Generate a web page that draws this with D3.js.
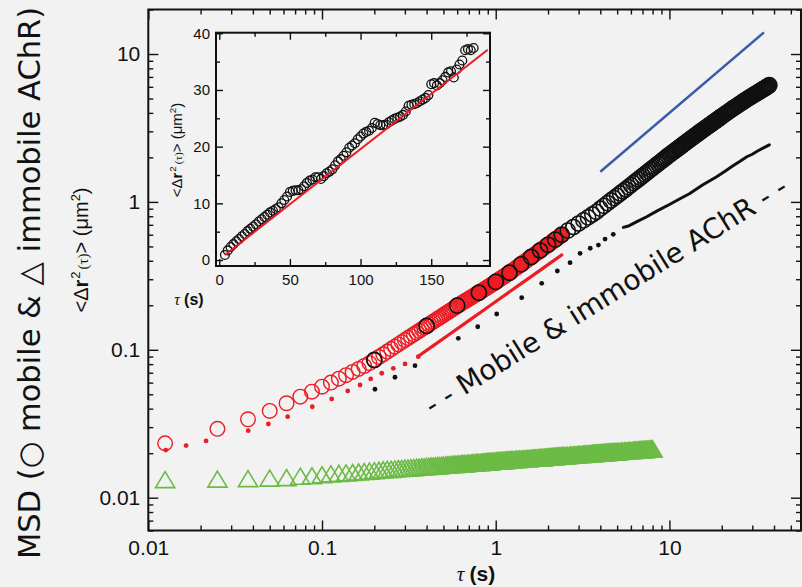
<!DOCTYPE html>
<html><head><meta charset="utf-8">
<script src="https://cdn.jsdelivr.net/npm/d3@7"></script>
<style>html,body{margin:0;padding:0;background:#f2f2f2}svg{display:block}</style>
</head><body>
<svg id="chart" width="802" height="587"></svg>
<script>
// ---------- DATA ----------
const fastFrame = 0.0125;   // s per lag frame (fast acquisition)
const slowFrame = 0.2;      // s per lag frame (slow acquisition)
const lagsDense = [1,2,3,4,5,6,7,8,9,10,11,12,13,14,15,16,17,18,19,20,21,22,23,24,25,26,27,28,29,30,31,32,33,34,35,36,37,38,39,40,41,42,43,44,45,46,47,48,49,50,51,52,53,54,55,56,57,58,59,60,61,62,63,64,65,66,67,68,69,70,71,72,73,74,75,76,77,78,79,80,81,82,83,84,85,86,87,88,89,90,91,92,93,94,95,96,97,98,99,100];

// mobile AChR, fast frames (red open circles)
const mobileFastLag = lagsDense.concat([102,104,106,108,110,112,114,116,118,120,122,124,126,128,130,132,134,136,138,140,142,144,146,148,150,152,154,156,158,160,162,164,166,168,170,172,174,176,178,180,182,184,186,188,190]);
const mobileFastMsd = [0.0233,0.0292,0.0339,0.0386,0.0435,0.0482,0.0521,0.0563,0.0600,0.0638,0.0674,0.0709,0.0743,0.0777,0.0812,0.0853,0.0894,0.0933,0.0973,0.1012,0.1050,0.1088,0.1126,0.1163,0.1200,0.1236,0.1272,0.1308,0.1343,0.1378,
0.1414,0.1450,0.1484,0.1518,0.1552,0.1586,0.1619,0.1652,0.1685,0.1718,0.1751,0.1783,0.1815,0.1847,0.1879,0.1910,0.1945,0.1980,0.2010,0.2039,
0.2069,0.2098,0.2127,0.2155,0.2184,0.2212,0.2241,0.2269,0.2297,0.2325,0.2353,0.2380,0.2405,0.2430,0.2459,0.2487,0.2515,0.2543,0.2571,0.2599,
0.2627,0.2654,0.2682,0.2709,0.2737,0.2764,0.2791,0.2818,0.2849,0.2880,0.2908,0.2936,0.2964,0.2992,0.3020,0.3047,0.3075,0.3102,0.3130,0.3157,
0.3185,0.3212,0.3239,0.3266,0.3293,0.3320,0.3349,0.3378,0.3408,0.3437,
0.3496,0.3554,0.3612,0.3670,0.3728,0.3785,0.3842,0.3899,0.3956,0.4013,0.4070,0.4126,0.4183,0.4239,0.4295,0.4351,0.4407,0.4463,0.4519,0.4575,
0.4631,0.4686,0.4741,0.4796,0.4851,0.4906,0.4961,0.5016,0.5071,0.5125,0.5179,0.5233,0.5287,0.5341,0.5395,0.5449,0.5503,0.5556,0.5610,0.5663,
0.5716,0.5769,0.5822,0.5875,0.5928];

// mobile AChR, slow frames (black open circles)
const mobileSlowLag = lagsDense.concat([102,104,106,108,110,112,114,116,118,120,122,124,126,128,130,132,134,136,138,140,142,144,146,148,150,152,154,156,158,160,162,164,166,168,170,172,174,176,178,180,182,184,186,188]);
const mobileSlowMsd = [0.0853,0.145,0.199,0.243,0.288,0.332,0.378,0.424,0.469,0.513,0.556,0.600,0.639,0.676,0.714,0.750,0.786,0.822,0.857,0.900,
0.940,0.981,1.022,1.061,1.100,1.141,1.180,1.218,1.259,1.299,1.339,1.379,1.417,1.457,1.497,1.536,1.576,1.616,1.655,1.694,
1.733,1.772,1.810,1.849,1.888,1.927,1.965,2.004,2.043,2.082,2.118,2.155,2.191,2.227,2.263,2.299,2.335,2.371,2.409,2.446,
2.481,2.516,2.552,2.587,2.622,2.657,2.692,2.727,2.762,2.797,2.832,2.867,2.901,2.935,2.970,3.004,3.038,3.071,3.104,3.136,
3.169,3.202,3.235,3.267,3.300,3.333,3.366,3.398,3.431,3.463,3.495,3.527,3.560,3.592,3.624,3.656,3.689,3.722,3.754,3.786,
3.849,3.912,3.974,4.036,4.098,4.159,4.221,4.282,4.338,4.393,4.451,4.509,4.566,4.623,4.680,4.736,4.792,4.848,4.902,4.955,
5.010,5.065,5.113,5.161,5.212,5.263,5.313,5.363,5.413,5.462,5.511,5.559,5.608,5.656,5.705,5.754,5.801,5.848,5.895,5.941,
5.990,6.039,6.095,6.150];

// immobile AChR, fast frames (green open triangles)
const immobileLag = lagsDense.concat([102,104,106,108,110,112,114,116,118,120,122,124,126,128,130,132,134,136,138,140,142,144,146,148,150,152,154,156,158,160,162,164,166,168,170,172,174,176,178,180,182,184,186,188,190,192,194,196,198,200,
204,208,212,216,220,224,228,232,236,240,244,248,252,256,260,264,268,272,276,280,284,288,292,296,300,304,308,312,316,320,324,328,332,336,340,344,348,352,356,360,364,368,372,376,380,384,388,392,396,400,
408,416,424,432,440,448,456,464,472,480,488,496,504,512,520,528,536,544,552,560,568,576,584,592,600,608,616,624,632,640]);
const immobileMsd = [0.0127,0.0128,0.0129,0.0130,0.0131,0.0134,0.0135,0.0137,0.0139,0.0140,0.0141,0.0142,0.0143,0.0144,0.0145,0.0146,0.0147,0.0148,0.0149,0.0149,
0.0150,0.0151,0.0151,0.0152,0.0152,0.0153,0.0153,0.0154,0.0154,0.0155,0.0155,0.0156,0.0156,0.0157,0.0157,0.0157,0.0158,0.0158,0.0159,0.0159,
0.0159,0.0160,0.0160,0.0160,0.0161,0.0161,0.0161,0.0162,0.0162,0.0162,0.0163,0.0163,0.0163,0.0163,0.0164,0.0164,0.0164,0.0164,0.0165,0.0165,
0.0165,0.0166,0.0166,0.0166,0.0166,0.0166,0.0167,0.0167,0.0167,0.0167,0.0168,0.0168,0.0168,0.0168,0.0168,0.0169,0.0169,0.0169,0.0169,0.0169,
0.0170,0.0170,0.0170,0.0170,0.0170,0.0171,0.0171,0.0171,0.0171,0.0171,0.0171,0.0172,0.0172,0.0172,0.0172,0.0172,0.0172,0.0173,0.0173,0.0173,
0.0173,0.0174,0.0174,0.0174,0.0175,0.0175,0.0175,0.0175,0.0176,0.0176,0.0176,0.0176,0.0177,0.0177,0.0177,0.0177,0.0178,0.0178,0.0178,0.0178,
0.0179,0.0179,0.0179,0.0179,0.0179,0.0180,0.0180,0.0180,0.0180,0.0181,0.0181,0.0181,0.0181,0.0181,0.0182,0.0182,0.0182,0.0182,0.0182,0.0183,
0.0183,0.0183,0.0183,0.0183,0.0183,0.0184,0.0184,0.0184,0.0184,0.0184,
0.0185,0.0185,0.0185,0.0186,0.0186,0.0186,0.0187,0.0187,0.0187,0.0188,0.0188,0.0188,0.0188,0.0189,0.0189,0.0189,0.0189,0.0190,0.0190,0.0190,
0.0190,0.0191,0.0191,0.0191,0.0191,0.0192,0.0192,0.0192,0.0192,0.0193,0.0193,0.0193,0.0193,0.0193,0.0194,0.0194,0.0194,0.0194,0.0195,0.0195,
0.0195,0.0195,0.0195,0.0195,0.0196,0.0196,0.0196,0.0196,0.0196,0.0197,
0.0197,0.0197,0.0198,0.0198,0.0198,0.0199,0.0199,0.0199,0.0200,0.0200,0.0200,0.0200,0.0201,0.0201,0.0201,0.0202,0.0202,0.0202,0.0202,0.0203,
0.0203,0.0203,0.0203,0.0204,0.0204,0.0204,0.0204,0.0205,0.0205,0.0205];

// dotted trend curves (red: mobile fast, black: mobile slow)
const redTrendDotTau = [0.0126,0.0165,0.0215,0.0376,0.0491,0.0634,0.0879,0.1137,0.1406,0.1655,0.1907,0.2207,0.2573,0.3005,0.3584];
const redTrendDotMsd = [0.0210,0.0225,0.0242,0.0284,0.0315,0.0353,0.0412,0.0465,0.0527,0.0578,0.0635,0.0694,0.0750,0.0802,0.0898];
const redTrendLineTau = [0.3666,0.45,0.55,0.7,0.9,1.1,1.4,1.7,2.0,2.4];
const redTrendLineMsd = [0.0922,0.1093,0.129,0.1576,0.194,0.2294,0.280,0.3289,0.3766,0.438];
const blackTrendDotTau = [0.2018,0.263,0.343,0.609,0.788,1.013,1.411,1.840,2.263,2.679,3.06,3.50,3.90,4.26,4.75];
const blackTrendDotMsd = [0.0541,0.0652,0.0781,0.1196,0.1432,0.1746,0.2250,0.2817,0.3410,0.388,0.449,0.486,0.511,0.561,0.604];
const blackTrendLineTau = [5.43,5.8,6.5,7.4,8.5,10,11.5,13.1,15.5,18.7,21,23,25.5,27.9,30,32,35,37.6];
const blackTrendLineMsd = [0.673,0.687,0.735,0.794,0.87,0.96,1.05,1.14,1.30,1.48,1.62,1.739,1.88,2.02,2.10,2.20,2.33,2.43];

// slope-1 guide (blue)
const guideTau = [4, 35];
const guideMsd = [1.6, 14];

// inset: linear MSD
const insetTau = [4,6,8,10,12,14,16,18,20,22,24,26,28,30,32,34,36,38,40,42,44,46,48,50,52,54,56,58,60,62,64,66,68,70,72,74,76,78,80,82,84,86,88,90,92,94,96,98,100,102,104,106,108,110,112,114,116,118,120,122,124,126,128,130,132,134,136,138,140,142,144,146,148,150,152,154,156,158,160,162,164,166,168,170,172,174,176,178,180];
const insetMsd = [0.9,1.7,2.3,2.8,3.3,3.7,4.2,4.6,5.1,5.5,5.9,6.3,6.8,7.2,7.6,8.0,8.4,8.7,9.0,9.3,10.0,10.6,11.2,12.0,12.2,12.3,12.3,12.5,13.0,13.6,14.0,14.2,14.6,14.6,14.3,14.8,15.3,15.6,16.0,16.7,17.4,17.8,18.4,19.0,19.8,20.2,20.6,21.3,21.8,22.3,22.6,22.8,23.3,24.2,24.0,23.8,23.8,23.9,24.3,24.6,24.9,25.1,25.3,25.6,26.2,27.2,27.4,27.5,27.7,28.0,28.3,28.6,29.1,31.0,31.2,30.8,31.2,31.7,32.3,33.1,33.3,32.2,33.6,34.5,35.2,37.0,37.2,37.0,37.4];
const insetFitTau = [4, 190];
const insetFitMsd = [0.9, 37.1];

// tick labels
const mainMajorX = [0.01, 0.1, 1, 10];
const mainMinorX = [0.02,0.03,0.04,0.05,0.06,0.07,0.08,0.09,0.2,0.3,0.4,0.5,0.6,0.7,0.8,0.9,2,3,4,5,6,7,8,9,20,30,40,50];
const mainMajorY = [0.01, 0.1, 1, 10];
const mainMinorY = [0.006,0.007,0.008,0.009,0.02,0.03,0.04,0.05,0.06,0.07,0.08,0.09,0.2,0.3,0.4,0.5,0.6,0.7,0.8,0.9,2,3,4,5,6,7,8,9,20];
const insetMajorX = [0, 50, 100, 150];
const insetMinorX = [25, 75, 125, 175];
const insetMajorY = [0, 10, 20, 30, 40];
const insetMinorY = [5, 15, 25, 35];

// ---------- DRAW ----------
const RED = '#ec1c24', GREEN = '#6cbb45', BLUE = '#3a5ca8', INK = '#111';
const SANS = '"Liberation Sans", Arial, Helvetica, sans-serif';
const svg = d3.select('#chart');
svg.append('rect').attr('width', 802).attr('height', 587).attr('fill', '#f2f2f2');

const x = d3.scaleLog().domain([0.01, 57.2]).range([148.3, 801]);
const y = d3.scaleLog().domain([0.006, 20]).range([530.5, 9.5]);

function axisG(gen, tr, fs) {
  const g = svg.append('g').attr('transform', tr).call(gen);
  g.select('.domain').remove();
  g.selectAll('line').attr('stroke', INK).attr('stroke-width', 1.4);
  g.selectAll('text').attr('font-family', SANS).attr('font-size', fs || 21).attr('fill', INK);
  return g;
}
const none = () => '';
axisG(d3.axisBottom(x).tickValues(mainMajorX).tickFormat(d => String(d)).tickSize(-10).tickPadding(10), 'translate(0,530.5)');
axisG(d3.axisBottom(x).tickValues(mainMinorX).tickFormat(none).tickSize(-5), 'translate(0,530.5)');
axisG(d3.axisTop(x).tickValues(mainMajorX).tickFormat(none).tickSize(-10), 'translate(0,9.5)');
axisG(d3.axisTop(x).tickValues(mainMinorX).tickFormat(none).tickSize(-5), 'translate(0,9.5)');
axisG(d3.axisLeft(y).tickValues(mainMajorY).tickFormat(d => String(d)).tickSize(-10).tickPadding(8), 'translate(148.3,0)');
axisG(d3.axisLeft(y).tickValues(mainMinorY).tickFormat(none).tickSize(-5), 'translate(148.3,0)');
axisG(d3.axisRight(y).tickValues(mainMajorY).tickFormat(none).tickSize(-10), 'translate(801,0)');
axisG(d3.axisRight(y).tickValues(mainMinorY).tickFormat(none).tickSize(-5), 'translate(801,0)');
svg.append('rect').attr('x', 148.3).attr('y', 9.5).attr('width', 652.7).attr('height', 521)
  .attr('fill', 'none').attr('stroke', INK).attr('stroke-width', 2);

const plot = svg.append('g');
// green triangles
const immobile = immobileLag.map((l, i) => ({t: l * fastFrame, v: immobileMsd[i]}));
plot.append('g').selectAll('path').data(immobile).join('path')
  .attr('d', 'M0,-10.7L9.6,5.3L-9.6,5.3Z')
  .attr('transform', d => `translate(${x(d.t)},${y(d.v)})`)
  .attr('fill', 'none').attr('stroke', GREEN).attr('stroke-width', 1.6).attr('stroke-linejoin', 'miter');

// red dotted trend
const line = d3.line().x(d => x(d.t)).y(d => y(d.v));
plot.append('g').selectAll('circle').data(redTrendDotTau.map((t, i) => ({t, v: redTrendDotMsd[i]}))).join('circle')
  .attr('cx', d => x(d.t)).attr('cy', d => y(d.v)).attr('r', 2.4).attr('fill', RED);
plot.append('path').datum(redTrendLineTau.map((t, i) => ({t, v: redTrendLineMsd[i]})))
  .attr('d', line).attr('fill', 'none').attr('stroke', RED).attr('stroke-width', 3.2).attr('stroke-linecap', 'round');

// red circles
const mobileFast = mobileFastLag.map((l, i) => ({t: l * fastFrame, v: mobileFastMsd[i]}));
plot.append('g').selectAll('circle').data(mobileFast).join('circle')
  .attr('cx', d => x(d.t)).attr('cy', d => y(d.v)).attr('r', 7.3)
  .attr('fill', 'none').attr('stroke', RED).attr('stroke-width', 1.4);

// black dotted trend
plot.append('g').selectAll('circle').data(blackTrendDotTau.map((t, i) => ({t, v: blackTrendDotMsd[i]}))).join('circle')
  .attr('cx', d => x(d.t)).attr('cy', d => y(d.v)).attr('r', 2.4).attr('fill', INK);
plot.append('path').datum(blackTrendLineTau.map((t, i) => ({t, v: blackTrendLineMsd[i]})))
  .attr('d', line).attr('fill', 'none').attr('stroke', INK).attr('stroke-width', 3).attr('stroke-linecap', 'round');

// black circles
const mobileSlow = mobileSlowLag.map((l, i) => ({t: l * slowFrame, v: mobileSlowMsd[i]}));
plot.append('g').selectAll('circle').data(mobileSlow).join('circle')
  .attr('cx', d => x(d.t)).attr('cy', d => y(d.v)).attr('r', 7.6)
  .attr('fill', 'none').attr('stroke', INK).attr('stroke-width', 1.6);

// blue guide
plot.append('path').datum(guideTau.map((t, i) => ({t, v: guideMsd[i]})))
  .attr('d', line).attr('fill', 'none').attr('stroke', BLUE).attr('stroke-width', 2.5);

// annotation
svg.append('text').attr('transform', 'translate(611,304) rotate(-32)')
  .attr('text-anchor', 'middle').attr('font-family', '"DejaVu Sans", sans-serif')
  .attr('font-size', 28).attr('fill', INK).text('- - Mobile & immobile AChR - -');

// main axis titles
svg.append('text').attr('transform', 'translate(40,283) rotate(-90)')
  .attr('text-anchor', 'middle').attr('font-family', '"DejaVu Sans", sans-serif')
  .attr('font-size', 30.5).attr('fill', INK).text('MSD (○ mobile & △ immobile AChR)');

function msdLabel(t, fs) {
  t.attr('font-family', SANS).attr('font-size', fs).attr('fill', INK);
  t.append('tspan').text('<Δ');
  t.append('tspan').attr('font-weight', 'bold').text('r');
  t.append('tspan').attr('font-size', fs * 0.65).attr('dy', -fs * 0.42).attr('dx', 1).text('2');
  t.append('tspan').attr('font-size', fs * 0.75).attr('dy', fs * 0.42).attr('dx', 2).attr('font-family', '"Liberation Serif", serif').text('(τ)');
  t.append('tspan').text('>');
  t.append('tspan').text(' (μm');
  t.append('tspan').attr('font-size', fs * 0.65).attr('dy', -fs * 0.42).text('2');
  t.append('tspan').attr('dy', fs * 0.42).text(')');
}
function tauLabel(t, fs) {
  t.attr('font-size', fs).attr('fill', INK);
  t.append('tspan').attr('font-family', '"Liberation Serif", serif').attr('font-style', 'italic').text('τ ');
  t.append('tspan').attr('font-family', SANS).attr('font-weight', 'bold').text('(s)');
}
msdLabel(svg.append('text').attr('transform', 'translate(88,250) rotate(-90)').attr('text-anchor', 'middle'), 20);
tauLabel(svg.append('text').attr('x', 476).attr('y', 581).attr('text-anchor', 'middle'), 21);

// ---------- INSET ----------
const ix = d3.scaleLinear().domain([-2.3, 191.6]).range([216, 490]);
const iy = d3.scaleLinear().domain([-1.05, 40.1]).range([266, 32.7]);
axisG(d3.axisBottom(ix).tickValues(insetMajorX).tickFormat(d => String(d)).tickSize(-7).tickPadding(8), 'translate(0,266)', 15);
axisG(d3.axisBottom(ix).tickValues(insetMinorX).tickFormat(none).tickSize(-4), 'translate(0,266)');
axisG(d3.axisTop(ix).tickValues(insetMajorX).tickFormat(none).tickSize(-7), 'translate(0,32.7)');
axisG(d3.axisTop(ix).tickValues(insetMinorX).tickFormat(none).tickSize(-4), 'translate(0,32.7)');
axisG(d3.axisLeft(iy).tickValues(insetMajorY).tickFormat(d => String(d)).tickSize(-7).tickPadding(6), 'translate(216,0)', 15);
axisG(d3.axisLeft(iy).tickValues(insetMinorY).tickFormat(none).tickSize(-4), 'translate(216,0)');
axisG(d3.axisRight(iy).tickValues(insetMajorY).tickFormat(none).tickSize(-7), 'translate(490,0)');
axisG(d3.axisRight(iy).tickValues(insetMinorY).tickFormat(none).tickSize(-4), 'translate(490,0)');
svg.append('rect').attr('x', 216).attr('y', 32.7).attr('width', 274).attr('height', 233.3)
  .attr('fill', 'none').attr('stroke', INK).attr('stroke-width', 2);
svg.append('g').selectAll('circle').data(insetTau.map((t, i) => ({t, v: insetMsd[i]}))).join('circle')
  .attr('cx', d => ix(d.t)).attr('cy', d => iy(d.v)).attr('r', 4.4)
  .attr('fill', 'none').attr('stroke', INK).attr('stroke-width', 1.3);
svg.append('path').datum(insetFitTau.map((t, i) => ({t, v: insetFitMsd[i]})))
  .attr('d', d3.line().x(d => ix(d.t)).y(d => iy(d.v)))
  .attr('fill', 'none').attr('stroke', RED).attr('stroke-width', 2);
msdLabel(svg.append('text').attr('transform', 'translate(182,150) rotate(-90)').attr('text-anchor', 'middle'), 15);
tauLabel(svg.append('text').attr('x', 189).attr('y', 305).attr('text-anchor', 'middle'), 16);
</script>
</body></html>
